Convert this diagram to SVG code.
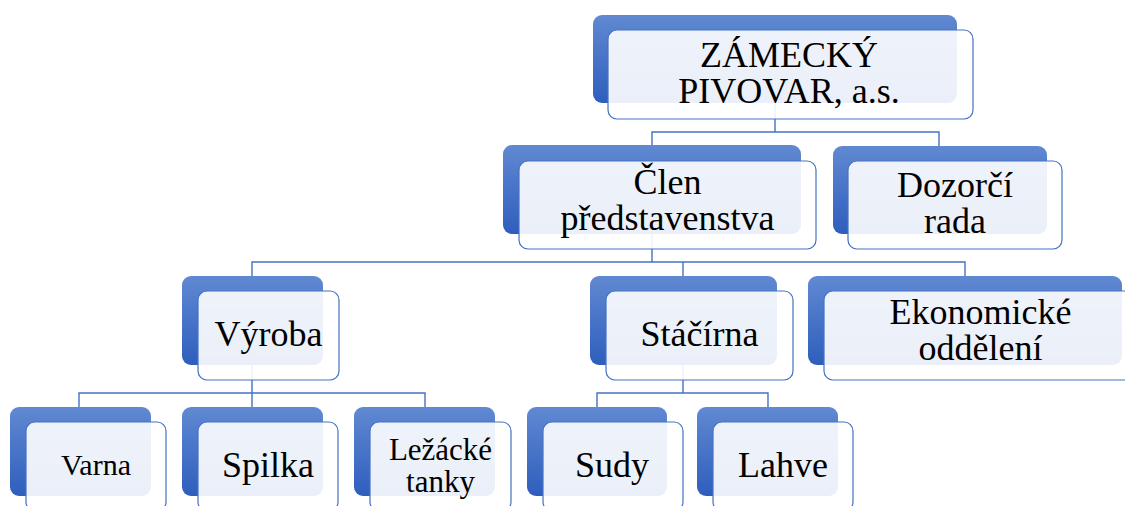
<svg xmlns="http://www.w3.org/2000/svg" width="1125" height="506" viewBox="0 0 1125 506">
<defs>
<linearGradient id="g" x1="0" y1="0" x2="0" y2="1">
<stop offset="0" stop-color="#6189d2"/>
<stop offset="1" stop-color="#2e5ebd"/>
</linearGradient>
<style>
.back{fill:url(#g);}
.front{fill:#ffffff;fill-opacity:0.9;stroke:#4472c4;stroke-width:1.2;}
.c{fill:none;stroke:#4472c4;stroke-width:1.4;}
.t{fill:#000;text-anchor:middle;font-size:36px;}
</style>
</defs>
<rect width="1125" height="506" fill="#ffffff"/>
<g id="connectors">
<path class="c" d="M775,90V132M652,145V132H939V146"/>
<path class="c" d="M652,220V262M252,276V262H965V276M683,262V276"/>
<path class="c" d="M252,350V393M79,407V393H425V407M252,393V407"/>
<path class="c" d="M683,350V393M597,407V393H768V407"/>
</g>
<g font-family="'Liberation Serif', 'DejaVu Serif', serif">
<g id="n-pivovar">
<rect class="back" x="593" y="15" width="364" height="88" rx="9"/>
<rect class="front" x="608" y="30" width="365" height="89" rx="9"/>
<text class="t" x="789" y="67">ZÁMECKÝ</text>
<text class="t" x="789" y="103">PIVOVAR, a.s.</text>
</g>
<g id="n-clen">
<rect class="back" x="503" y="145" width="298" height="89" rx="9"/>
<rect class="front" x="519" y="161" width="297" height="88" rx="9"/>
<text class="t" x="667.5" y="194">Člen</text>
<text class="t" x="667.5" y="230">představenstva</text>
</g>
<g id="n-dozorci">
<rect class="back" x="833" y="146" width="214" height="88" rx="9"/>
<rect class="front" x="848" y="161" width="214" height="88" rx="9"/>
<text class="t" x="955" y="197">Dozorčí</text>
<text class="t" x="955" y="233">rada</text>
</g>
<g id="n-vyroba">
<rect class="back" x="182" y="276" width="141" height="89" rx="9"/>
<rect class="front" x="198" y="291" width="141" height="89" rx="9"/>
<text class="t" x="268.5" y="346">Výroba</text>
</g>
<g id="n-stacirna">
<rect class="back" x="590" y="276" width="187" height="89" rx="9"/>
<rect class="front" x="606" y="291" width="187" height="89" rx="9"/>
<text class="t" x="699.5" y="346">Stáčírna</text>
</g>
<g id="n-ekonomicke">
<rect class="back" x="808" y="276" width="314" height="89" rx="9"/>
<rect class="front" x="824" y="291" width="313" height="89" rx="9"/>
<text class="t" x="980.5" y="324">Ekonomické</text>
<text class="t" x="980.5" y="360">oddělení</text>
</g>
<g id="n-varna">
<rect class="back" x="10" y="407" width="141" height="89" rx="9"/>
<rect class="front" x="26" y="422" width="140" height="89" rx="9"/>
<text class="t" x="96" y="475" font-size="30" style="font-size:30px">Varna</text>
</g>
<g id="n-spilka">
<rect class="back" x="182" y="407" width="141" height="89" rx="9"/>
<rect class="front" x="198" y="422" width="140" height="89" rx="9"/>
<text class="t" x="268" y="477">Spilka</text>
</g>
<g id="n-lezacke">
<rect class="back" x="354" y="407" width="141" height="89" rx="9"/>
<rect class="front" x="370" y="422" width="141" height="89" rx="9"/>
<text class="t" x="440.5" y="460" style="font-size:31px">Ležácké</text>
<text class="t" x="440.5" y="492" style="font-size:31px">tanky</text>
</g>
<g id="n-sudy">
<rect class="back" x="527" y="407" width="140" height="89" rx="9"/>
<rect class="front" x="543" y="422" width="140" height="89" rx="9"/>
<text class="t" x="612" y="477">Sudy</text>
</g>
<g id="n-lahve">
<rect class="back" x="697" y="407" width="141" height="89" rx="9"/>
<rect class="front" x="713" y="422" width="140" height="89" rx="9"/>
<text class="t" x="783" y="477">Lahve</text>
</g>
</g>
</svg>
